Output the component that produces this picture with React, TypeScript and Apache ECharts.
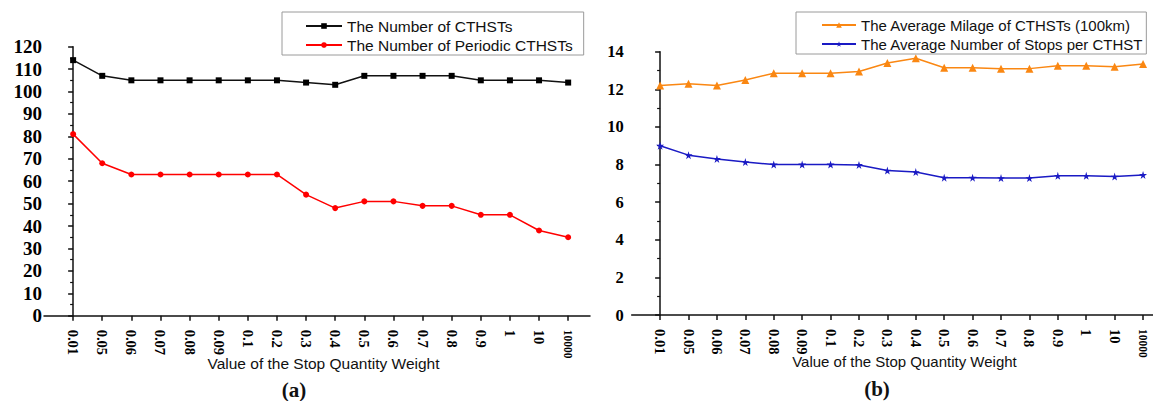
import React, { useEffect, useRef } from "react";
import * as echarts from "echarts";

const categories = ["0.01", "0.05", "0.06", "0.07", "0.08", "0.09", "0.1", "0.2", "0.3", "0.4", "0.5", "0.6", "0.7", "0.8", "0.9", "1", "10", "10000"];

const numberOfCTHSTs = [114, 107, 105, 105, 105, 105, 105, 105, 104, 103, 107, 107, 107, 107, 105, 105, 105, 104];
const numberOfPeriodic = [81, 68, 63, 63, 63, 63, 63, 63, 54, 48, 51, 51, 49, 49, 45, 45, 38, 35];
const averageMilage = [12.2, 12.3, 12.2, 12.5, 12.85, 12.85, 12.85, 12.95, 13.4, 13.65, 13.15, 13.15, 13.1, 13.1, 13.25, 13.25, 13.2, 13.35];
const averageStops = [9.0, 8.5, 8.3, 8.13, 8.0, 8.0, 8.0, 7.98, 7.68, 7.6, 7.3, 7.3, 7.28, 7.28, 7.4, 7.4, 7.36, 7.45];

const leftTicks = [0, 10, 20, 30, 40, 50, 60, 70, 80, 90, 100, 110, 120];
const rightTicks = [0, 2, 4, 6, 8, 10, 12, 14];

const xName = "Value of the Stop Quantity Weight";
const legendA = ["The Number of CTHSTs", "The Number of Periodic CTHSTs"];
const legendB = ["The Average Milage of CTHSTs (100km)", "The Average Number of Stops per CTHST"];

const STAR = "path://M50,0 L61,35 L98,35 L68,57 L79,91 L50,70 L21,91 L32,57 L2,35 L39,35 Z";
const SERIF = "'Liberation Serif', 'Times New Roman', serif";
const SANS = "'Liberation Sans', Arial, sans-serif";

const toPoints = (vals: number[]) => vals.map((v, i) => [i, v]);

function xAxisDef(gridIndex: number, max: number) {
  return {
    type: "value",
    gridIndex,
    min: -1,
    max,
    splitLine: { show: false },
    axisLine: { show: true, onZero: false, lineStyle: { color: "#111", width: 1.5 } },
    axisTick: {
      show: true,
      length: 5,
      lineStyle: { color: "#111", width: 1.5 },
      customValues: categories.map((_, i) => i),
    },
    axisLabel: {
      rotate: -90,
      margin: 14,
      color: "#000",
      fontFamily: SERIF,
      fontWeight: "bold",
      fontSize: 14.5,
      customValues: categories.map((_, i) => i),
      formatter: (v: number) => {
        const c = categories[Math.round(v)];
        if (c === undefined) return "";
        return c === "10000" ? "{s|" + c + "}" : c;
      },
      rich: { s: { fontSize: 11.5, fontFamily: SERIF, fontWeight: "bold", color: "#000" } },
    },
  };
}

function yAxisDef(gridIndex: number, ticks: number[], fontSize: number, margin: number) {
  return {
    type: "value",
    gridIndex,
    min: ticks[0],
    max: ticks[ticks.length - 1],
    interval: ticks[1] - ticks[0],
    splitLine: { show: false },
    axisLine: { show: true, lineStyle: { color: "#111", width: 1.5 } },
    axisTick: { show: true, length: 5, lineStyle: { color: "#111", width: 1.5 } },
    minorTick: { show: true, splitNumber: 2, length: 3, lineStyle: { color: "#111", width: 1.2 } },
    axisLabel: {
      margin,
      color: "#000",
      fontFamily: SERIF,
      fontWeight: "bold",
      fontSize,
    },
  };
}

function legendDef(names: string[], left: number, top: number, padding: number[], fontSize: number, itemWidth: number, gap: number) {
  return {
    data: names,
    orient: "vertical",
    left,
    top,
    padding,
    itemWidth,
    itemHeight: 7,
    itemGap: 3,
    itemTextGap: gap,
    borderColor: "#9a9a9a",
    borderWidth: 1,
    textStyle: { fontFamily: SANS, fontSize, color: "#111", lineHeight: 16 },
  };
}

export default function App() {
  const ref = useRef<HTMLDivElement>(null);

  useEffect(() => {
    if (!ref.current) return;
    const chart = echarts.init(ref.current, null, { renderer: "svg" });
    chart.setOption({
      animation: false,
      backgroundColor: "#fff",
      grid: [
        { left: 44, top: 46.7, width: 546, height: 269 },
        { left: 631.7, top: 51.7, width: 521.3, height: 263.3 },
      ],
      xAxis: [xAxisDef(0, 17.75), xAxisDef(1, 17.35)],
      yAxis: [yAxisDef(0, leftTicks, 19, 2), yAxisDef(1, rightTicks, 16.5, 8)],
      legend: [
        legendDef(legendA, 282, 12, [6, 11, 2, 23], 15.5, 36, 4),
        legendDef(legendB, 796, 12, [5, 3, 2, 25], 15, 34, 5),
      ],
      series: [
        {
          name: legendA[0],
          type: "line",
          xAxisIndex: 0,
          yAxisIndex: 0,
          data: toPoints(numberOfCTHSTs),
          symbol: "rect",
          symbolSize: 6,
          color: "#111",
          lineStyle: { color: "#111", width: 1.5 },
          itemStyle: { color: "#000" },
        },
        {
          name: legendA[1],
          type: "line",
          xAxisIndex: 0,
          yAxisIndex: 0,
          data: toPoints(numberOfPeriodic),
          symbol: "circle",
          symbolSize: 6,
          color: "#f00",
          lineStyle: { color: "#f00", width: 1.5 },
          itemStyle: { color: "#f00" },
        },
        {
          name: legendB[0],
          type: "line",
          xAxisIndex: 1,
          yAxisIndex: 1,
          data: toPoints(averageMilage),
          symbol: "triangle",
          symbolSize: 8,
          color: "#fa8712",
          lineStyle: { color: "#fa8712", width: 1.5 },
          itemStyle: { color: "#fa8712" },
        },
        {
          name: legendB[1],
          type: "line",
          xAxisIndex: 1,
          yAxisIndex: 1,
          data: toPoints(averageStops),
          symbol: STAR,
          symbolSize: 8,
          color: "#1a1ac4",
          lineStyle: { color: "#1a1ac4", width: 1.5 },
          itemStyle: { color: "#1a1ac4" },
        },
      ],
      graphic: [
        {
          type: "text",
          x: 323.5,
          y: 363,
          style: { text: xName, fontFamily: SANS, fontSize: 15.5, fill: "#111", align: "center", verticalAlign: "middle" },
        },
        {
          type: "text",
          x: 904.5,
          y: 361,
          style: { text: xName, fontFamily: SANS, fontSize: 15, fill: "#111", align: "center", verticalAlign: "middle" },
        },
        {
          type: "text",
          x: 294,
          y: 390,
          style: { text: "(a)", fontFamily: SERIF, fontWeight: "bold", fontSize: 21, fill: "#111", align: "center", verticalAlign: "middle" },
        },
        {
          type: "text",
          x: 877,
          y: 389,
          style: { text: "(b)", fontFamily: SERIF, fontWeight: "bold", fontSize: 21, fill: "#111", align: "center", verticalAlign: "middle" },
        },
      ],
    });
    return () => chart.dispose();
  }, []);

  return (
    <div
      ref={ref}
      style={{ position: "absolute", left: 0, top: 0, width: 1153, height: 401, background: "#fff" }}
    />
  );
}
